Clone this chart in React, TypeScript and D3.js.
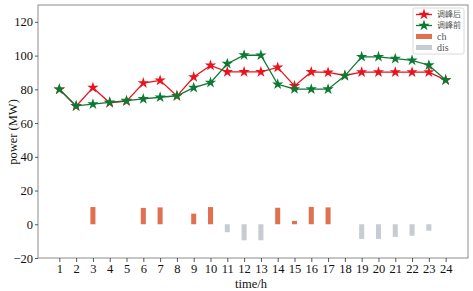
import React, { useEffect, useRef } from 'react';
import * as d3 from 'd3';

const hours = d3.range(1, 25);
const after = [80, 70, 81, 72, 73, 83.7, 85.3, 76, 87.3, 94.2, 90.3, 90.3, 90.3, 93, 82, 90.3, 90, 88.2, 90.2, 90.2, 90.2, 90.2, 90.2, 85.5];
const before = [80, 70.2, 71.2, 72.3, 73.3, 74.3, 75.3, 76.2, 81, 84, 95.2, 100.3, 100.2, 83, 80.2, 80.1, 80.1, 88, 99.3, 99.3, 98.2, 97.2, 94.3, 85.5];
const charge = [0, 0, 10.2, 0, 0, 9.7, 10, 0, 6.3, 10.2, 0, 0, 0, 9.8, 2, 10.3, 10, 0, 0, 0, 0, 0, 0, 0];
const discharge = [0, 0, 0, 0, 0, 0, 0, 0, 0, 0, -4.7, -9.5, -9.5, 0, 0, 0, 0, 0, -8.7, -8.7, -7.5, -6.8, -3.8, 0];
const yTicks = [-20, 0, 20, 40, 60, 80, 100, 120];
const legendItems = ['调峰后', '调峰前', 'ch', 'dis'];

const RED = '#e8141e';
const GREEN = '#0b7a32';
const CH = '#e07050';
const DIS = '#c6ccd1';

const App: React.FC = () => {
  const svgRef = useRef<SVGSVGElement>(null);

  useEffect(() => {
    if (!svgRef.current) return;
    const svg = d3.select(svgRef.current);
    svg.selectAll('*').remove();

    const left = 38, right = 468, top = 5, bottom = 258;
    const x = d3.scaleLinear().domain([-0.27, 25.33]).range([left, right]);
    const y = d3.scaleLinear().domain([-20, 130]).range([bottom, top]);
    const font = '"Liberation Serif", "Times New Roman", serif';

    // bars
    const bw = 0.3;
    svg.append('g').selectAll('rect')
      .data(hours.filter((_, i) => charge[i] > 0))
      .enter().append('rect')
      .attr('x', h => x(h - bw / 2))
      .attr('width', x(bw) - x(0))
      .attr('y', h => y(charge[h - 1]))
      .attr('height', h => y(0) - y(charge[h - 1]))
      .attr('fill', CH);
    svg.append('g').selectAll('rect')
      .data(hours.filter((_, i) => discharge[i] < 0))
      .enter().append('rect')
      .attr('x', h => x(h - bw / 2))
      .attr('width', x(bw) - x(0))
      .attr('y', y(0))
      .attr('height', h => y(discharge[h - 1]) - y(0))
      .attr('fill', DIS);

    const star = d3.symbol().type(d3.symbolStar).size(40);
    const drawSeries = (vals: number[], color: string) => {
      const line = d3.line<number>().x((_, i) => x(hours[i])).y(d => y(d));
      svg.append('path')
        .attr('d', line(vals))
        .attr('fill', 'none')
        .attr('stroke', color)
        .attr('stroke-width', 1.3);
      svg.append('g').selectAll('path')
        .data(vals)
        .enter().append('path')
        .attr('d', star)
        .attr('transform', (d, i) => `translate(${x(hours[i])},${y(d)})`)
        .attr('fill', color);
    };
    drawSeries(after, RED);
    drawSeries(before, GREEN);

    // frame
    svg.append('rect')
      .attr('x', left).attr('y', top)
      .attr('width', right - left).attr('height', bottom - top)
      .attr('fill', 'none').attr('stroke', '#8c8c8c').attr('stroke-width', 1);

    // axes
    const xAxis = svg.append('g').attr('transform', `translate(0,${bottom})`)
      .call(d3.axisBottom(x).tickValues(hours).tickSize(4).tickPadding(2).tickFormat(d3.format('d')));
    const yAxis = svg.append('g').attr('transform', `translate(${left},0)`)
      .call(d3.axisLeft(y).tickValues(yTicks).tickSize(3).tickPadding(2)
        .tickFormat(d => (+d < 0 ? '−' + Math.abs(+d) : String(d))));
    [xAxis, yAxis].forEach(a => {
      a.select('.domain').remove();
      a.selectAll('line').attr('stroke', '#555');
      a.selectAll('text').attr('font-family', font).attr('font-size', 12.5).attr('fill', '#111');
    });

    svg.append('text')
      .attr('x', 251).attr('y', 288)
      .attr('text-anchor', 'middle')
      .attr('font-family', font).attr('font-size', 12.5).attr('fill', '#111')
      .text('time/h');
    svg.append('text')
      .attr('transform', 'translate(17,132) rotate(-90)')
      .attr('text-anchor', 'middle')
      .attr('font-family', font).attr('font-size', 12.5).attr('fill', '#111')
      .text('power (MW)');

    // legend
    const lg = svg.append('g').attr('transform', 'translate(413,8)');
    lg.append('rect')
      .attr('width', 51).attr('height', 46).attr('rx', 2)
      .attr('fill', 'white').attr('stroke', '#d0d0d0').attr('stroke-width', 0.8);
    legendItems.forEach((name, i) => {
      const cy = 6.5 + i * 11;
      const row = lg.append('g').attr('transform', `translate(0,${cy})`);
      if (i < 2) {
        const c = i === 0 ? RED : GREEN;
        row.append('line').attr('x1', 3).attr('x2', 19).attr('stroke', c).attr('stroke-width', 1.3);
        row.append('path').attr('d', star).attr('transform', 'translate(11,0)').attr('fill', c);
      } else {
        row.append('rect').attr('x', 3).attr('y', -2.5).attr('width', 16).attr('height', 5).attr('fill', i === 2 ? CH : DIS);
      }
      row.append('text')
        .attr('x', 24).attr('y', 0).attr('dy', '0.35em')
        .attr('font-family', i < 2 ? '"Noto Sans CJK SC", sans-serif' : font)
        .attr('font-size', i < 2 ? 8 : 10)
        .attr('fill', '#555')
        .text(name);
    });
  }, []);

  return (
    <div style={{ position: 'absolute', left: 0, top: 0 }}>
      <svg ref={svgRef} width="473" height="291" viewBox="0 0 473 291" style={{ display: 'block' }}></svg>
    </div>
  );
};

export default App;
